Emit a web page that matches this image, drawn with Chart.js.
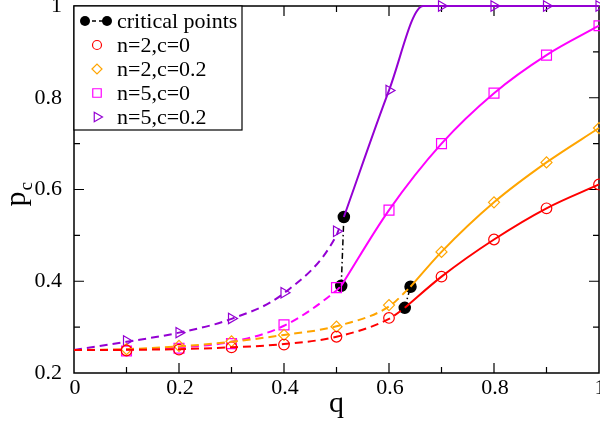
<!DOCTYPE html>
<html>
<head>
<meta charset="utf-8">
<script src="https://cdn.jsdelivr.net/npm/chart.js@4.4.1/dist/chart.umd.min.js"></script>
<style>
  html, body { margin: 0; padding: 0; background: #fff; }
</style>
</head>
<body>
<canvas id="chart" width="600" height="427"></canvas>
<script>
// Simulation markers (q = 0.1 ... 1.0)
const qMarks = [0.1, 0.2, 0.3, 0.4, 0.5, 0.6, 0.7, 0.8, 0.9, 1.0];
const pN2C0 = [0.249, 0.251, 0.256, 0.262, 0.279, 0.320, 0.410, 0.491, 0.559, 0.611];
const pN2C02 = [0.252, 0.259, 0.269, 0.283, 0.301, 0.348, 0.464, 0.572, 0.659, 0.734];
const pN5C0 = [0.248, 0.254, 0.264, 0.305, 0.386, 0.555, 0.700, 0.810, 0.893, 0.957];
const pN5C02 = [0.270, 0.288, 0.319, 0.375, 0.509, 0.816, 1.0, 1.0, 1.0, 1.0];

// Theory curves: dashed below the critical point, solid above
const qLowN2C0 = [0, 0.1, 0.2, 0.3, 0.4, 0.5, 0.6, 0.63];
const pLowN2C0 = [0.25, 0.2505, 0.252, 0.256, 0.263, 0.279, 0.318, 0.342];
const qHighN2C0 = [0.63, 0.7, 0.8, 0.9, 1.0];
const pHighN2C0 = [0.342, 0.410, 0.491, 0.559, 0.611];

const qLowN2C02 = [0, 0.1, 0.2, 0.3, 0.4, 0.5, 0.6, 0.641];
const pLowN2C02 = [0.25, 0.252, 0.258, 0.268, 0.283, 0.302, 0.345, 0.388];
const qHighN2C02 = [0.641, 0.7, 0.8, 0.9, 1.0];
const pHighN2C02 = [0.388, 0.464, 0.572, 0.659, 0.734];

const qLowN5C0 = [0, 0.1, 0.2, 0.3, 0.4, 0.5, 0.509];
const pLowN5C0 = [0.25, 0.251, 0.256, 0.268, 0.303, 0.380, 0.390];
const qHighN5C0 = [0.509, 0.6, 0.7, 0.8, 0.9, 1.0];
const pHighN5C0 = [0.390, 0.555, 0.700, 0.810, 0.893, 0.957];

const qLowN5C02 = [0, 0.1, 0.2, 0.3, 0.4, 0.5, 0.505];
const pLowN5C02 = [0.25, 0.268, 0.288, 0.318, 0.374, 0.500, 0.515];
const qHighN5C02 = [0.514, 0.6, 0.665, 0.8, 1.0];
const pHighN5C02 = [0.540, 0.816, 1.0, 1.0, 1.0];

// Critical points, joined in pairs (same n)
const qCritN2 = [0.630, 0.641];
const pCritN2 = [0.342, 0.388];
const qCritN5 = [0.509, 0.514];
const pCritN5 = [0.390, 0.540];

const xTicks = [0, 0.2, 0.4, 0.6, 0.8, 1];
const yTicks = [0.2, 0.4, 0.6, 0.8, 1];

const RED = '#ff0000';
const ORANGE = '#ffa500';
const MAGENTA = '#ff00ff';
const VIOLET = '#9400d3';
const SERIF = "'Liberation Serif', 'DejaVu Serif', serif";

function pts(qs, ps) {
    return qs.map((q, i) => ({ x: q, y: ps[i] }));
}

function curve(qs, ps, color, dashed) {
    return {
        data: pts(qs, ps),
        showLine: true,
        borderColor: color,
        borderWidth: 2,
        borderDash: dashed ? [8, 5] : [],
        pointRadius: 0,
        cubicInterpolationMode: 'monotone',
        clip: false
    };
}

function markers(ps, color, style, radius, rotation) {
    return {
        data: pts(qMarks, ps),
        showLine: false,
        borderColor: color,
        backgroundColor: 'rgba(0,0,0,0)',
        borderWidth: 1.2,
        pointStyle: style,
        pointRadius: radius,
        pointRotation: rotation || 0,
        clip: false
    };
}

function critical(qs, ps) {
    return {
        data: pts(qs, ps),
        showLine: true,
        borderColor: '#000',
        borderWidth: 1.5,
        borderDash: [6, 3, 1.5, 3],
        backgroundColor: '#000',
        pointBackgroundColor: '#000',
        pointBorderColor: '#000',
        pointRadius: 5.5,
        pointStyle: 'circle',
        clip: false
    };
}

const legendItems = [
    { label: 'critical points', crit: true },
    { label: 'n=2,c=0', color: RED, style: 'circle', radius: 4.5 },
    { label: 'n=2,c=0.2', color: ORANGE, style: 'rectRot', radius: 5 },
    { label: 'n=5,c=0', color: MAGENTA, style: 'rect', radius: 6 },
    { label: 'n=5,c=0.2', color: VIOLET, style: 'triangle', radius: 5.5, rotation: 90 }
];

// Box frame with inward ticks, x tick labels and axis titles
const frameTicks = {
    id: 'frameTicks',
    beforeDatasetsDraw(chart) {
        const { ctx, chartArea: a, scales: { x, y } } = chart;
        ctx.save();
        ctx.strokeStyle = '#000';
        ctx.lineWidth = 1.5;
        ctx.strokeRect(a.left, a.top, a.right - a.left, a.bottom - a.top);
        ctx.lineWidth = 1.2;
        ctx.beginPath();
        for (let i = 1; i < 10; i++) {
            const len = i % 2 === 0 ? 10 : 6;
            const px = x.getPixelForValue(i / 10);
            ctx.moveTo(px, a.bottom); ctx.lineTo(px, a.bottom - len);
            ctx.moveTo(px, a.top); ctx.lineTo(px, a.top + len);
        }
        for (let i = 3; i < 10; i++) {
            const len = i % 2 === 0 ? 10 : 6;
            const py = y.getPixelForValue(i / 10);
            ctx.moveTo(a.left, py); ctx.lineTo(a.left + len, py);
            ctx.moveTo(a.right, py); ctx.lineTo(a.right - len, py);
        }
        ctx.stroke();
        ctx.restore();
    },
    afterDraw(chart) {
        const { ctx, chartArea: a, scales: { x } } = chart;
        ctx.save();
        ctx.fillStyle = '#000';
        // x tick labels
        ctx.font = '22px ' + SERIF;
        ctx.textAlign = 'center';
        ctx.textBaseline = 'top';
        xTicks.forEach(v => ctx.fillText(String(v), x.getPixelForValue(v) + 1, a.bottom + 4));
        // x title
        ctx.font = '30px ' + SERIF;
        ctx.textBaseline = 'alphabetic';
        ctx.fillText('q', x.getPixelForValue(0.5), 412);
        // y title p_c, rotated
        ctx.translate(25, 196);
        ctx.rotate(-Math.PI / 2);
        ctx.textAlign = 'left';
        ctx.font = '30px ' + SERIF;
        const wp = ctx.measureText('p').width;
        ctx.fillText('p', -wp / 2 - 3, 0);
        ctx.font = '19px ' + SERIF;
        ctx.fillText('c', wp / 2 - 2, 7);
        ctx.restore();
    }
};

// Legend box in the upper-left corner of the plot
const boxLegend = {
    id: 'boxLegend',
    afterDatasetsDraw(chart) {
        const { ctx, chartArea: a } = chart;
        const left = a.left, top = a.top, w = 168, h = 124;
        ctx.save();
        ctx.fillStyle = '#fff';
        ctx.fillRect(left, top, w, h);
        ctx.strokeStyle = '#000';
        ctx.lineWidth = 1.2;
        ctx.strokeRect(left, top, w, h);
        ctx.font = '22px ' + SERIF;
        ctx.textBaseline = 'middle';
        ctx.textAlign = 'left';
        legendItems.forEach((it, i) => {
            const cy = top + 15 + i * 24;
            if (it.crit) {
                ctx.strokeStyle = '#000';
                ctx.lineWidth = 1.5;
                ctx.setLineDash([4, 3]);
                ctx.beginPath();
                ctx.moveTo(left + 11, cy); ctx.lineTo(left + 33, cy);
                ctx.stroke();
                ctx.setLineDash([]);
                ctx.fillStyle = '#000';
                [left + 11, left + 33].forEach(cx => {
                    ctx.beginPath();
                    ctx.arc(cx, cy, 5, 0, Math.PI * 2);
                    ctx.fill();
                });
            } else {
                ctx.strokeStyle = it.color;
                ctx.fillStyle = 'rgba(0,0,0,0)';
                ctx.lineWidth = 1.2;
                Chart.helpers.drawPoint(ctx, {
                    pointStyle: it.style, radius: it.radius,
                    rotation: it.rotation || 0, borderWidth: 1.2
                }, left + 23, cy);
            }
            ctx.fillStyle = '#000';
            ctx.fillText(it.label, left + 43, cy + 1);
        });
        ctx.restore();
    }
};

new Chart(document.getElementById('chart'), {
    type: 'scatter',
    data: {
        datasets: [
            curve(qLowN2C0, pLowN2C0, RED, true),
            curve(qHighN2C0, pHighN2C0, RED, false),
            curve(qLowN2C02, pLowN2C02, ORANGE, true),
            curve(qHighN2C02, pHighN2C02, ORANGE, false),
            curve(qLowN5C0, pLowN5C0, MAGENTA, true),
            curve(qHighN5C0, pHighN5C0, MAGENTA, false),
            curve(qLowN5C02, pLowN5C02, VIOLET, true),
            curve(qHighN5C02, pHighN5C02, VIOLET, false),
            markers(pN2C0, RED, 'circle', 5.3),
            markers(pN2C02, ORANGE, 'rectRot', 5.5),
            markers(pN5C0, MAGENTA, 'rect', 7),
            markers(pN5C02, VIOLET, 'triangle', 6, 90),
            critical(qCritN5, pCritN5),
            critical(qCritN2, pCritN2)
        ]
    },
    options: {
        responsive: false,
        animation: false,
        devicePixelRatio: 1,
        layout: { autoPadding: false, padding: { top: 6, right: 1, left: 0, bottom: 0 } },
        plugins: {
            legend: { display: false },
            tooltip: { enabled: false }
        },
        scales: {
            x: {
                type: 'linear',
                min: 0, max: 1,
                grid: { display: false },
                border: { display: false },
                afterBuildTicks: s => { s.ticks = xTicks.map(v => ({ value: v })); },
                afterFit: s => { s.height = 54; },
                ticks: { display: false }
            },
            y: {
                type: 'linear',
                min: 0.2, max: 1,
                grid: { display: false },
                border: { display: false },
                afterBuildTicks: s => { s.ticks = yTicks.map(v => ({ value: v })); },
                afterFit: s => { s.width = 74; s.paddingTop = 0; s.paddingBottom = 0; },
                ticks: {
                    padding: 4, autoSkip: false,
                    color: '#000',
                    font: { family: SERIF, size: 22 },
                    callback: v => String(v)
                }
            }
        }
    },
    plugins: [frameTicks, boxLegend]
});
</script>
</body>
</html>
